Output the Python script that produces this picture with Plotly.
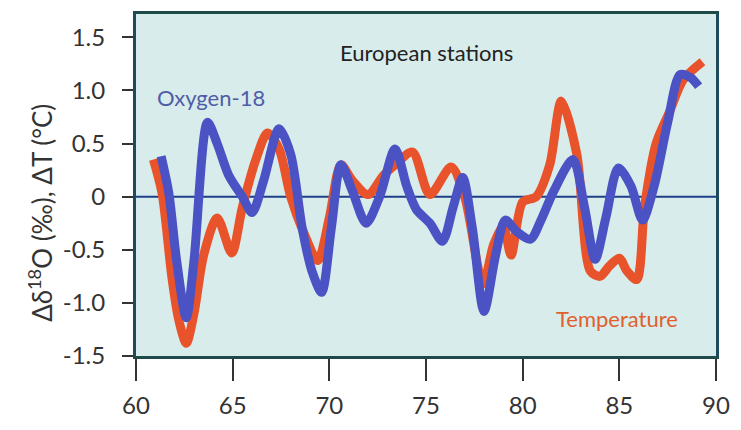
import plotly.graph_objects as go

# Temperature (red) anomaly, °C
temp_year = [60.9, 61.35, 61.85, 62.2, 62.6, 63.0, 63.5, 64.2, 64.95, 65.5, 66.2, 66.8, 67.4,
             68.0, 68.7, 69.4, 70.0, 70.6, 71.2, 72.0, 72.8, 73.4, 74.3, 75.2, 76.3, 77.0,
             77.95, 78.5, 79.0, 79.4, 80.0, 80.7, 81.4, 82.0, 82.8, 83.5, 84.0, 84.5, 85.0,
             85.4, 85.9, 86.3, 86.9, 87.6, 88.3, 89.3]
temp_val = [0.35, 0.03, -0.75, -1.15, -1.38, -1.1, -0.55, -0.2, -0.53, -0.1, 0.35, 0.6, 0.45,
            0.0, -0.35, -0.6, -0.2, 0.3, 0.15, 0.02, 0.2, 0.3, 0.42, 0.02, 0.28, 0.0,
            -0.82, -0.45, -0.28, -0.55, -0.05, 0.0, 0.3, 0.9, 0.4, -0.7, -0.75, -0.65, -0.58,
            -0.7, -0.78, -0.1, 0.5, 0.8, 1.1, 1.27]

# Oxygen-18 (blue) anomaly, per mil
o18_year = [61.3, 61.7, 62.1, 62.6, 63.0, 63.7, 64.2, 64.8, 65.5, 66.0, 66.6, 67.4, 68.0,
            68.6, 69.1, 69.6, 70.1, 70.6, 71.2, 71.9, 72.6, 73.4, 74.0, 74.5, 75.2, 75.85,
            76.4, 76.9, 77.4, 78.0, 78.6, 79.1, 79.7, 80.4, 81.0, 81.6, 82.6, 83.2, 83.75,
            84.3, 84.95, 85.6, 86.2, 86.8, 87.5, 88.15, 88.7, 89.1]
o18_val = [0.38, 0.03, -0.6, -1.14, -0.6, 0.70, 0.5, 0.2, 0.0, -0.15, 0.15, 0.64, 0.4,
           -0.3, -0.7, -0.9, -0.3, 0.30, 0.05, -0.25, 0.0, 0.45, 0.1, -0.12, -0.25, -0.42,
           -0.1, 0.18, -0.3, -1.08, -0.55, -0.22, -0.33, -0.4, -0.2, 0.05, 0.35, -0.1, -0.59,
           -0.2, 0.27, 0.1, -0.22, 0.1, 0.7, 1.15, 1.12, 1.04]

x_ticks = [60, 65, 70, 75, 80, 85, 90]
y_ticks = [1.5, 1.0, 0.5, 0, -0.5, -1.0, -1.5]
y_tick_text = ["1.5", "1.0", "0.5", "0", "-0.5", "-1.0", "-1.5"]

FONT = "Lato"

fig = go.Figure()
fig.add_trace(go.Scatter(x=temp_year, y=temp_val, mode="lines",
                         line=dict(color="#e8532b", width=9, shape="spline", smoothing=0.8),
                         name="Temperature", showlegend=False))
fig.add_trace(go.Scatter(x=o18_year, y=o18_val, mode="lines",
                         line=dict(color="#4a52c4", width=9, shape="spline", smoothing=0.8),
                         name="Oxygen-18", showlegend=False))

fig.add_shape(type="line", xref="paper", yref="y", x0=0, x1=1, y0=0, y1=0,
              line=dict(color="#1c3f88", width=2), layer="below")

fig.add_annotation(text="European stations", xref="x", yref="y", x=75.0, y=1.36,
                   showarrow=False, font=dict(family=FONT, size=22, color="#222222"))
fig.add_annotation(text="Oxygen-18", xref="x", yref="y", x=63.9, y=0.93,
                   showarrow=False, font=dict(family=FONT, size=22, color="#4f5da8"))
fig.add_annotation(text="Temperature", xref="x", yref="y", x=84.9, y=-1.15,
                   showarrow=False, font=dict(family=FONT, size=22, color="#e0602e"))
# y-axis title
fig.add_annotation(text="Δδ<sup>18</sup>O (‰), ΔT (°C)", xref="paper", yref="paper",
                   x=-0.165, y=0.42, textangle=-90, showarrow=False,
                   xanchor="center", yanchor="middle",
                   font=dict(family=FONT, size=26, color="#333333"))

fig.update_xaxes(range=[60, 90], tickvals=x_ticks, ticks="outside", ticklen=22, tickwidth=2,
                 tickcolor="#333333", showgrid=False, zeroline=False,
                 showline=True, linecolor="#1e4a4a", linewidth=3, mirror=True,
                 ticklabelstandoff=4,
                 tickfont=dict(family=FONT, size=24, color="#333333"))
fig.update_yaxes(range=[-1.5, 1.72], tickvals=y_ticks, ticktext=y_tick_text, ticks="outside",
                 ticklen=11, tickwidth=2, tickcolor="#333333", showgrid=False, zeroline=False,
                 showline=True, linecolor="#1e4a5e", linewidth=3, mirror=True,
                 ticklabelstandoff=12,
                 tickfont=dict(family=FONT, size=24, color="#333333"))

fig.update_layout(width=741, height=430, margin=dict(l=136, r=22, t=11, b=72),
                  plot_bgcolor="#d8ecec", paper_bgcolor="white")

fig.write_html("out.html")
